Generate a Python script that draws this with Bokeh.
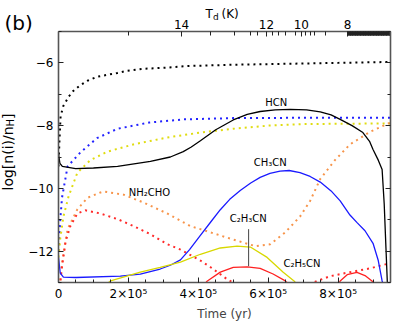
import numpy as np
from math import pi
from bokeh.plotting import figure
from bokeh.models import LinearAxis, FixedTicker, Label, Range1d
from bokeh.core.properties import value
from bokeh.embed import file_html
from bokeh.resources import INLINE

# ---------------- data (time in yr, log abundance) ----------------
t_black_dot = [0, 3e3, 6e3, 1.4e4, 2.9e4, 4e4, 6e4, 8.3e4, 1.11e5, 1.4e5, 1.69e5, 1.97e5,
               2.43e5, 3.11e5, 3.69e5, 5e5, 6.5e5, 8e5, 9.5e5]
y_black_dot = [-9.3, -8.4, -7.7, -7.37, -7.08, -6.92, -6.73, -6.57, -6.44, -6.38, -6.32, -6.25,
               -6.19, -6.15, -6.1, -6.06, -6.03, -6.0, -5.97]

t_blue_dot = [0, 5e3, 1e4, 2.6e4, 6.3e4, 1.1e5, 1.69e5, 2.6e5, 3.6e5, 5e5, 7e5, 9.5e5]
y_blue_dot = [-12.0, -11.0, -10.3, -9.3, -8.85, -8.4, -8.1, -7.9, -7.8, -7.76, -7.75, -7.75]

t_yellow_dot = [0, 5e3, 1.4e4, 2.9e4, 5.4e4, 9.1e4, 1.4e5, 2.14e5, 3.1e5, 4.06e5, 5e5, 6e5, 7e5, 9.5e5]
y_yellow_dot = [-12.2, -11.6, -10.9, -10.25, -9.5, -9.1, -8.83, -8.6, -8.38, -8.22, -8.1, -8.0, -7.95, -7.93]

t_orange_dot = [0, 1e4, 2.6e4, 5.4e4, 8.3e4, 1.2e5, 1.29e5, 1.86e5, 2.43e5, 3.11e5, 3.77e5, 4.06e5,
                4.91e5, 5.63e5, 6.06e5, 6.49e5, 6.91e5, 7.2e5, 7.49e5, 7.91e5, 8.34e5, 8.91e5, 9.5e5]
y_orange_dot = [-13.5, -12.4, -11.3, -10.67, -10.3, -10.13, -10.1, -10.2, -10.45, -10.8, -11.2, -11.3,
                -11.6, -11.84, -11.78, -11.4, -10.9, -10.4, -9.7, -9.1, -8.6, -8.2, -7.9]

t_red_dot = [0, 1e4, 2e4, 3.4e4, 5.4e4, 7.7e4, 1.2e5, 1.69e5, 2.14e5, 2.63e5, 3.11e5, 3.49e5, 4.06e5,
             4.4e5, 4.83e5, 5.3e5, 6.0e5, 6.8e5, 7.4e5, 7.77e5, 8.34e5, 8.91e5, 9.5e5]
y_red_dot = [-13.5, -12.5, -11.7, -11.2, -10.8, -10.7, -10.8, -10.98, -11.2, -11.46, -11.78, -11.95, -12.3,
             -12.55, -12.9, -13.2, -13.4, -13.2, -12.95, -12.8, -12.67, -12.55, -12.38]

t_hcn = [0, 4e3, 1.1e4, 4.9e4, 1.0e5, 1.69e5, 2.63e5, 3.2e5, 3.57e5, 3.8e5, 4.06e5, 4.5e5, 5.0e5,
         5.4e5, 5.77e5, 6.2e5, 6.63e5, 7.1e5, 7.49e5, 7.8e5, 8.06e5, 8.4e5, 8.71e5, 8.9e5, 9.0e5,
         9.15e5, 9.26e5, 9.32e5, 9.37e5, 9.42e5]
y_hcn = [-8.9, -9.2, -9.3, -9.37, -9.35, -9.3, -9.14, -9.0, -8.83, -8.68, -8.48, -8.13, -7.82,
         -7.64, -7.55, -7.5, -7.48, -7.5, -7.56, -7.66, -7.8, -8.0, -8.22, -8.5, -8.76,
         -9.1, -9.4, -10.5, -11.9, -13.3]

t_ch3cn = [0, 5e3, 1.4e4, 5e4, 1.77e5, 2.34e5, 2.91e5, 3.2e5, 3.49e5, 3.75e5, 4.06e5, 4.35e5, 4.63e5,
           4.9e5, 5.2e5, 5.5e5, 5.77e5, 6.05e5, 6.34e5, 6.6e5, 6.91e5, 7.2e5, 7.49e5, 7.8e5, 8.06e5,
           8.34e5, 8.55e5, 8.77e5, 9.0e5, 9.15e5, 9.26e5, 9.4e5]
y_ch3cn = [-12.2, -12.7, -12.83, -12.84, -12.8, -12.73, -12.57, -12.45, -12.28, -11.95, -11.5, -11.08, -10.68,
           -10.35, -10.07, -9.83, -9.65, -9.52, -9.45, -9.43, -9.5, -9.62, -9.8, -10.08, -10.4,
           -10.85, -11.1, -11.35, -11.75, -12.3, -12.95, -13.5]

t_c2h3cn = [1.2e5, 1.49e5, 2.34e5, 2.91e5, 3.49e5, 4.06e5, 4.63e5, 5.11e5, 5.49e5, 5.97e5, 6.43e5, 6.74e5, 7.0e5]
y_c2h3cn = [-13.2, -12.95, -12.67, -12.52, -12.35, -12.1, -11.9, -11.84, -11.87, -12.2, -12.67, -12.95, -13.3]

t_c2h5cn = [3.9e5, 4.26e5, 4.63e5, 5.0e5, 5.4e5, 5.77e5, 6.14e5, 6.49e5, 6.8e5, 7.5e5, 7.9e5, 8.06e5,
            8.26e5, 8.54e5, 8.77e5, 8.97e5, 9.15e5]
y_c2h5cn = [-13.4, -12.95, -12.67, -12.52, -12.5, -12.55, -12.73, -12.95, -13.3, -13.5, -13.3, -12.95,
            -12.75, -12.68, -12.78, -12.95, -13.3]

# axis ticks
x_major = [0, 2e5, 4e5, 6e5, 8e5]
x_labels = ["0", "2×10⁵", "4×10⁵", "6×10⁵", "8×10⁵"]
y_major = [-12, -10, -8, -6]
y_labels = ["−12", "−10", "−8", "−6"]
y_minor = [-13, -11, -9, -7, -5]

td_major_t = [3.52e5, 5.95e5, 6.95e5, 8.27e5]
td_labels = ["14", "12", "10", "8"]
td_minor_t = [2.0e5, 4.35e5, 5.04e5, 5.49e5, 5.69e5, 6.12e5, 6.29e5, 6.49e5, 6.78e5,
              7.07e5, 7.21e5, 7.32e5, 7.64e5]

# ---------------- figure ----------------
FONT = "DejaVu Sans"
X0, X1, Y0, Y1 = 0, 9.5e5, -13, -5
L, R, T, B = 58, 9, 31, 41
W, H = 399, 323
p = figure(width=W, height=H, x_range=Range1d(X0, X1), y_range=Range1d(Y0, Y1),
           output_backend="svg", toolbar_location=None,
           min_border_left=L, min_border_right=R, min_border_top=T, min_border_bottom=B)
p.grid.visible = False
p.outline_line_color = None
p.background_fill_color = "white"

# canvas pixel -> data (for the texts that sit outside the frame)
sx = (X1 - X0) / (W - L - R)
sy = (Y1 - Y0) / (H - T - B)
def cx(px):
    return X0 + (px - L) * sx
def cy(py):
    return Y1 - (py - T) * sy

AX_COLOR = "#555555"

def style(ax):
    ax.axis_line_color = AX_COLOR
    ax.axis_line_width = 1.6
    ax.major_tick_in = 5
    ax.major_tick_out = 0
    ax.minor_tick_in = 3
    ax.minor_tick_out = 0
    ax.major_tick_line_color = "#222222"
    ax.minor_tick_line_color = "#222222"
    ax.major_label_text_font = FONT
    ax.major_label_text_font_size = "12px"
    ax.major_label_text_color = "black"
    ax.major_label_standoff = 4

xb = p.xaxis[0]
xb.ticker = FixedTicker(ticks=x_major, minor_ticks=list(np.arange(0, 9.5e5 + 1, 5e4)))
xb.major_label_overrides = {float(v): s for v, s in zip(x_major, x_labels)}
style(xb)
xb.axis_label = "Time (yr)"
xb.axis_label_text_font = FONT
xb.axis_label_text_font_size = "12px"
xb.axis_label_text_font_style = "normal"
xb.axis_label_standoff = 3

yl = p.yaxis[0]
yl.ticker = FixedTicker(ticks=y_major, minor_ticks=y_minor)
yl.major_label_overrides = {float(v): s for v, s in zip(y_major, y_labels)}
style(yl)
yl.major_label_standoff = 5

yr = LinearAxis(ticker=FixedTicker(ticks=y_major, minor_ticks=y_minor))
style(yr)
yr.major_label_overrides = {float(v): "" for v in y_major}
yr.major_label_standoff = 0
p.add_layout(yr, "right")

dense = list(np.arange(td_major_t[-1], 9.5e5, 1200))
xt = LinearAxis(ticker=FixedTicker(ticks=td_major_t, minor_ticks=td_minor_t + dense))
style(xt)
xt.minor_tick_in = 4
xt.major_label_overrides = {float(v): s for v, s in zip(td_major_t, td_labels)}
xt.major_label_standoff = 3
p.add_layout(xt, "above")

# ---------------- curves ----------------
DOT = "2 4"
p.line(t_black_dot, y_black_dot, line_color="black", line_width=2, line_dash=DOT)
p.line(t_blue_dot, y_blue_dot, line_color="#2222ff", line_width=2, line_dash=DOT)
p.line(t_yellow_dot, y_yellow_dot, line_color="#e0dc10", line_width=2, line_dash=DOT)
p.line(t_orange_dot, y_orange_dot, line_color="#f7944a", line_width=2, line_dash=DOT)
p.line(t_red_dot, y_red_dot, line_color="#ff2a2a", line_width=2, line_dash=DOT)

p.line(t_hcn, y_hcn, line_color="black", line_width=1.3)
p.line(t_ch3cn, y_ch3cn, line_color="#1a1aff", line_width=1.3)
p.line(t_c2h3cn, y_c2h3cn, line_color="#d8d800", line_width=1.3)
p.line(t_c2h5cn, y_c2h5cn, line_color="#ff2020", line_width=1.3)

# leader line for C2H3CN
p.segment(x0=[5.44e5], y0=[-11.3], x1=[5.44e5], y1=[-12.48], line_color="#444444", line_width=1)

# ---------------- labels inside the frame ----------------
def lab(x, y, text, size="10px"):
    p.add_layout(Label(x=x, y=y, text=text, text_font=FONT, text_font_size=size,
                       text_align="center", text_baseline="middle", text_color="black"))

lab(6.23e5, -7.27, "HCN")
lab(6.06e5, -9.17, "CH₃CN")
lab(2.6e5, -10.13, "NH₂CHO")
lab(5.43e5, -10.95, "C₂H₃CN")
lab(6.97e5, -12.38, "C₂H₅CN")

# ---------------- texts outside the frame (overlay-level text glyphs) ----------------
def otext(px, py, text, size, angle=0, baseline="alphabetic"):
    p.text(x=[cx(px)], y=[cy(py)], text=[text], text_font=value(FONT), text_font_size=value(size),
           text_align="left", text_baseline=baseline, text_color="black", angle=angle,
           level="overlay")

otext(4, 22, "(b)", "20px")
otext(205, 13, "T", "12px")
otext(212.5, 16, "d", "9px")
otext(221, 13, "(K)", "12px")
otext(7, 190, "log[n(i)/n", "14px", angle=pi / 2, baseline="middle")
otext(10, 126, "H", "10px", angle=pi / 2, baseline="middle")
otext(7, 118.5, "]", "14px", angle=pi / 2, baseline="middle")

open("out.html", "w").write(file_html(p, INLINE))
